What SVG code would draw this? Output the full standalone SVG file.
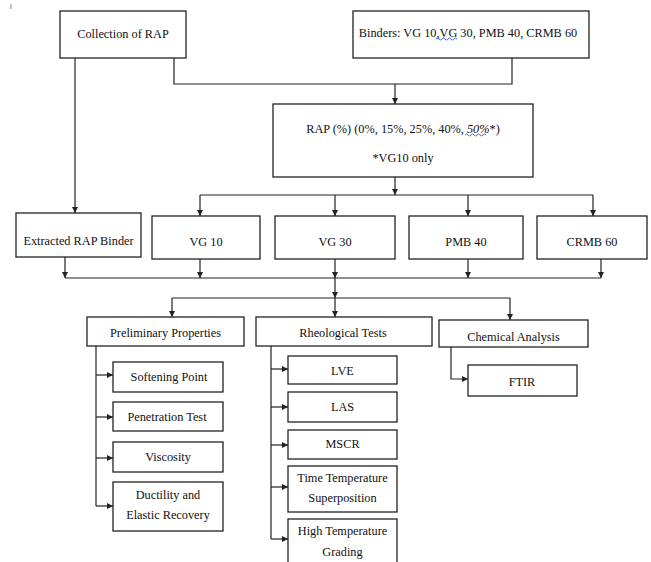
<svg xmlns="http://www.w3.org/2000/svg" width="651" height="562" viewBox="0 0 651 562">
<style>
.box{fill:#fff;stroke:#222;stroke-width:1.3}
.t{font-family:"Liberation Serif","Times New Roman",serif;font-size:12.3px;fill:#111;text-anchor:middle}
.c{fill:none;stroke:#222;stroke-width:1.2}
.a{fill:none;stroke:#222;stroke-width:1.2;marker-end:url(#ah)}
.w{fill:none;stroke:#3355dd;stroke-width:0.9}
</style>
<defs>
<marker id="ah" markerUnits="userSpaceOnUse" markerWidth="7" markerHeight="6" refX="6" refY="3" orient="auto">
<path d="M0,0 L6,3 L0,6 Z" fill="#222"/>
</marker>
</defs>
<rect width="651" height="562" fill="#fff"/>
<line x1="11" y1="4" x2="11" y2="9" stroke="#888" stroke-width="1"/>
<g id="connectors">
<path class="a" d="M75 58 V213"/>
<path class="c" d="M174 58 V84 H512 V58"/>
<path class="a" d="M395 84 V104"/>
<path class="a" d="M395 177 V195"/>
<path class="c" d="M200 195 H593"/>
<path class="a" d="M200 195 V216"/>
<path class="a" d="M335 195 V216"/>
<path class="a" d="M468 195 V216"/>
<path class="a" d="M593 195 V216"/>
<path class="c" d="M65 278 H601"/>
<path class="a" d="M65 257 V278"/>
<path class="a" d="M200 259 V278"/>
<path class="a" d="M335 259 V278"/>
<path class="a" d="M468 259 V278"/>
<path class="a" d="M601 259 V278"/>
<path class="a" d="M335 278 V298"/>
<path class="c" d="M172 298 H510"/>
<path class="a" d="M172 298 V317"/>
<path class="a" d="M335 298 V317"/>
<path class="a" d="M510 298 V320"/>
<path class="c" d="M96 346 V506"/>
<path class="a" d="M96 375 H113"/>
<path class="a" d="M96 417 H113"/>
<path class="a" d="M96 458 H113"/>
<path class="a" d="M96 506 H113"/>
<path class="c" d="M271 346 V539"/>
<path class="a" d="M271 369 H288"/>
<path class="a" d="M271 407 H288"/>
<path class="a" d="M271 445 H288"/>
<path class="a" d="M271 487 H288"/>
<path class="a" d="M271 539 H288"/>
<path class="a" d="M451 347 V379 H468"/>
</g>
<g id="collection"><rect class="box" x="60" y="11" width="126" height="47"/><text class="t" x="123" y="38">Collection of RAP</text></g>
<g id="binders"><rect class="box" x="353" y="11" width="236" height="47"/><text class="t" x="468" y="37">Binders: VG 10,VG 30, PMB 40, CRMB 60</text>
<path class="w" d="M436 39 q1.5 -2 3 0 t3 0 t3 0 t3 0 t3 0 t3 0 t3 0"/></g>
<g id="rap"><rect class="box" x="273" y="104" width="260" height="73"/><text class="t" x="403" y="133">RAP (%) (0%, 15%, 25%, 40%, <tspan font-style="italic">50%</tspan>*)</text><text class="t" x="403" y="162">*VG10 only</text>
<path class="w" d="M465 135 q1.5 -2 3 0 t3 0 t3 0 t3 0 t3 0 t3 0 t3 0"/></g>
<g id="extracted"><rect class="box" x="16" y="213" width="125" height="44"/><text class="t" x="78.5" y="245">Extracted RAP Binder</text></g>
<g id="vg10"><rect class="box" x="152" y="216" width="108" height="43"/><text class="t" x="206" y="246">VG 10</text></g>
<g id="vg30"><rect class="box" x="275" y="216" width="120" height="43"/><text class="t" x="335" y="246">VG 30</text></g>
<g id="pmb40"><rect class="box" x="409" y="216" width="114" height="43"/><text class="t" x="466" y="246">PMB 40</text></g>
<g id="crmb60"><rect class="box" x="537" y="216" width="110" height="43"/><text class="t" x="592" y="246">CRMB 60</text></g>
<g id="preliminary"><rect class="box" x="87" y="317" width="157" height="29"/><text class="t" x="165.5" y="337">Preliminary Properties</text></g>
<g id="softening"><rect class="box" x="113" y="362" width="110" height="30"/><text class="t" x="169" y="381">Softening Point</text></g>
<g id="penetration"><rect class="box" x="113" y="402" width="110" height="29"/><text class="t" x="167" y="421">Penetration Test</text></g>
<g id="viscosity"><rect class="box" x="113" y="442" width="110" height="30"/><text class="t" x="168" y="461">Viscosity</text></g>
<g id="ductility"><rect class="box" x="113" y="482" width="110" height="49"/><text class="t" x="168" y="499">Ductility and</text><text class="t" x="168" y="519">Elastic Recovery</text></g>
<g id="rheological"><rect class="box" x="256" y="317" width="176" height="29"/><text class="t" x="343" y="337">Rheological Tests</text></g>
<g id="lve"><rect class="box" x="288" y="356" width="109" height="28"/><text class="t" x="342.5" y="375">LVE</text></g>
<g id="las"><rect class="box" x="288" y="392" width="109" height="30"/><text class="t" x="342.5" y="411">LAS</text></g>
<g id="mscr"><rect class="box" x="288" y="430" width="109" height="29"/><text class="t" x="342.5" y="448">MSCR</text></g>
<g id="tts"><rect class="box" x="288" y="466" width="109" height="46"/><text class="t" x="342.5" y="482">Time Temperature</text><text class="t" x="342.5" y="502">Superposition</text></g>
<g id="htg"><rect class="box" x="288" y="519" width="109" height="50"/><text class="t" x="342.5" y="535">High Temperature</text><text class="t" x="342.5" y="556">Grading</text></g>
<g id="chemical"><rect class="box" x="439" y="320" width="149" height="27"/><text class="t" x="513.5" y="341">Chemical Analysis</text></g>
<g id="ftir"><rect class="box" x="468" y="365" width="109" height="31"/><text class="t" x="522" y="386">FTIR</text></g>
</svg>
